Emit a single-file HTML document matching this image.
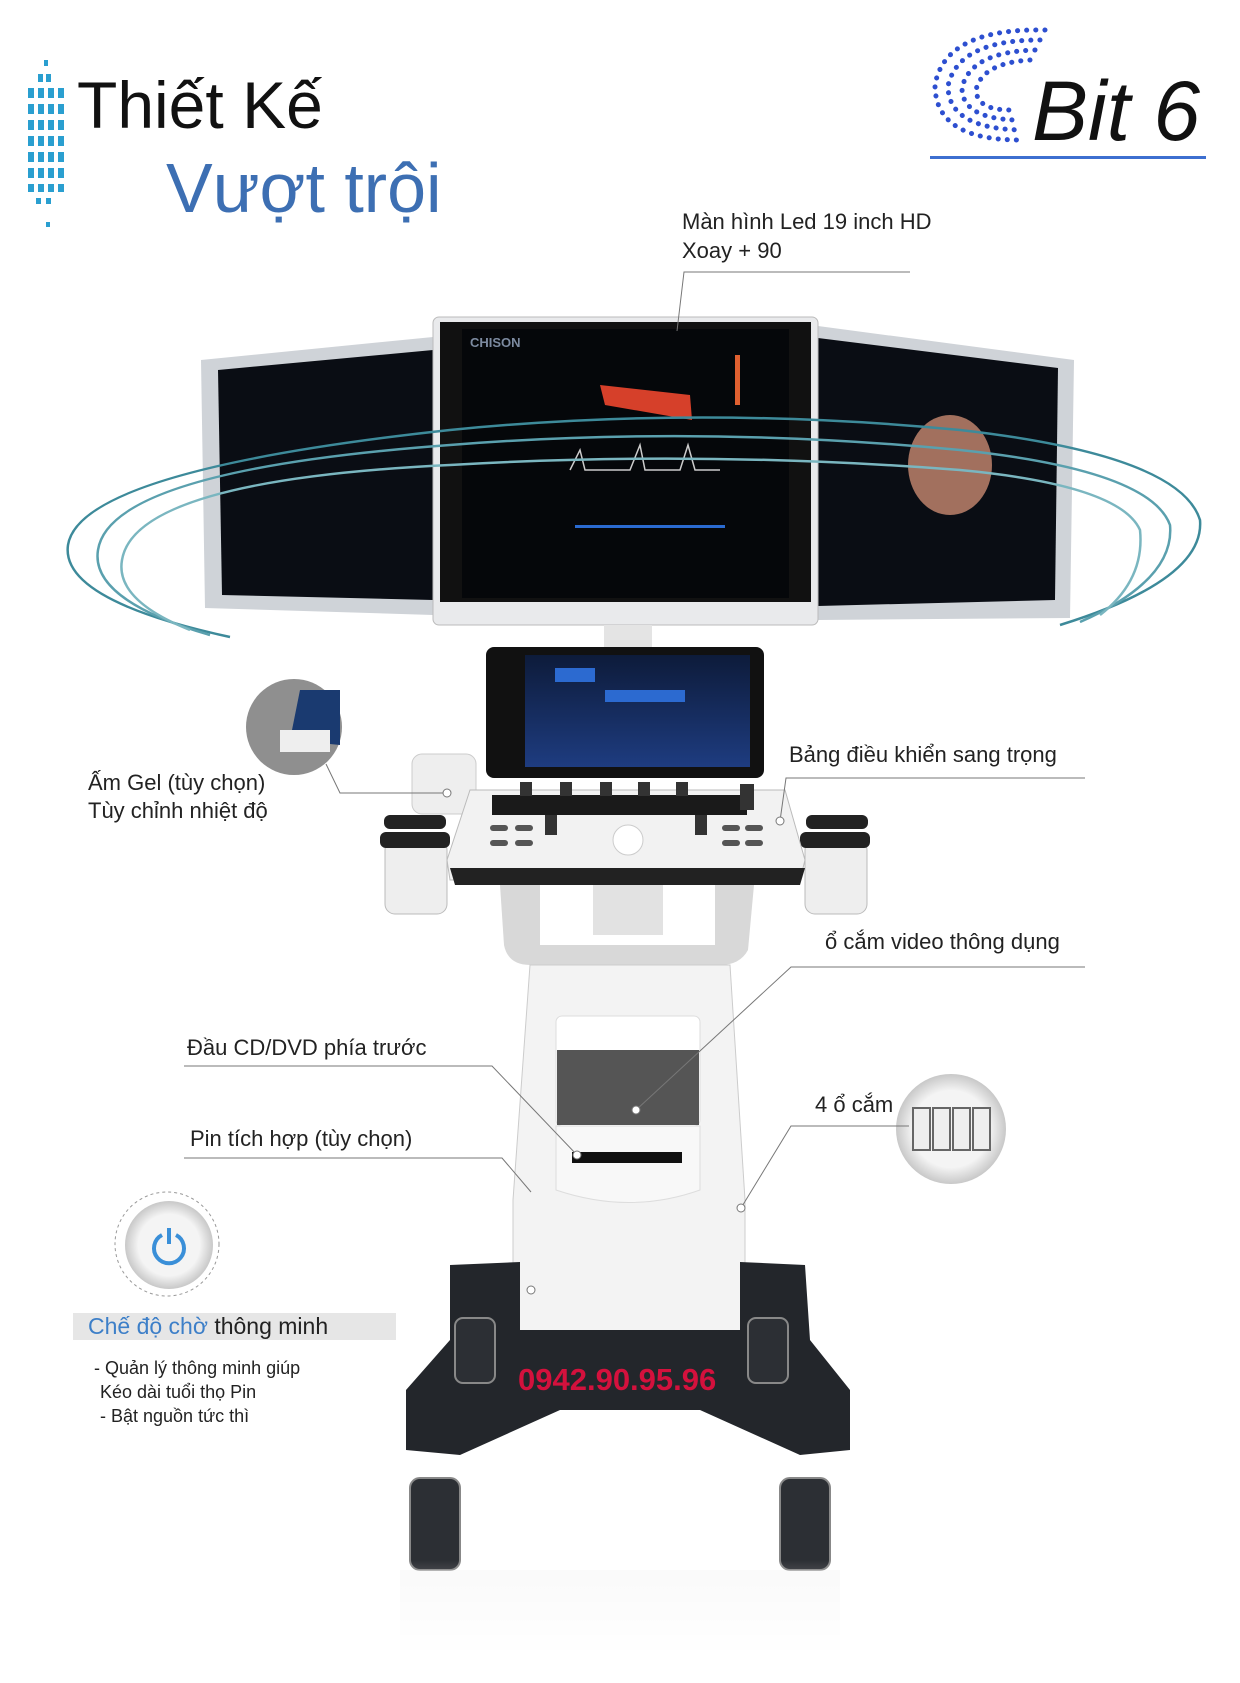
<!DOCTYPE html>
<html><head><meta charset="utf-8"><style>
html,body{margin:0;padding:0;background:#fff}
svg{display:block}
text{font-family:"Liberation Sans","DejaVu Sans",sans-serif}
</style></head><body>
<svg width="1240" height="1683" viewBox="0 0 1240 1683" xmlns="http://www.w3.org/2000/svg">
<defs>
<linearGradient id="fade" x1="0" y1="0" x2="0" y2="1"><stop offset="0" stop-color="#fff" stop-opacity="0"/><stop offset="1" stop-color="#fff" stop-opacity="1"/></linearGradient>
<radialGradient id="circ" cx="0.5" cy="0.5" r="0.5"><stop offset="0.7" stop-color="#f4f4f4"/><stop offset="1" stop-color="#c8c8c8"/></radialGradient>
<linearGradient id="scr" x1="0" y1="0" x2="0" y2="1"><stop offset="0" stop-color="#0d1b3a"/><stop offset="1" stop-color="#1e3c80"/></linearGradient>
</defs>
<!-- title dotted bar -->
<g fill="#2a9fd0">
<rect x="44" y="60" width="4" height="6"/><rect x="38" y="74" width="5" height="8"/><rect x="46" y="74" width="5" height="8"/>
<rect x="28" y="88" width="6" height="10"/><rect x="38" y="88" width="6" height="10"/><rect x="48" y="88" width="6" height="10"/><rect x="58" y="88" width="6" height="10"/>
<rect x="28" y="104" width="6" height="10"/><rect x="38" y="104" width="6" height="10"/><rect x="48" y="104" width="6" height="10"/><rect x="58" y="104" width="6" height="10"/>
<rect x="28" y="120" width="6" height="10"/><rect x="38" y="120" width="6" height="10"/><rect x="48" y="120" width="6" height="10"/><rect x="58" y="120" width="6" height="10"/>
<rect x="28" y="136" width="6" height="10"/><rect x="38" y="136" width="6" height="10"/><rect x="48" y="136" width="6" height="10"/><rect x="58" y="136" width="6" height="10"/>
<rect x="28" y="152" width="6" height="10"/><rect x="38" y="152" width="6" height="10"/><rect x="48" y="152" width="6" height="10"/><rect x="58" y="152" width="6" height="10"/>
<rect x="28" y="168" width="6" height="10"/><rect x="38" y="168" width="6" height="10"/><rect x="48" y="168" width="6" height="10"/><rect x="58" y="168" width="6" height="10"/>
<rect x="28" y="184" width="6" height="8"/><rect x="38" y="184" width="6" height="8"/><rect x="48" y="184" width="6" height="8"/><rect x="58" y="184" width="6" height="8"/>
<rect x="36" y="198" width="5" height="6"/><rect x="46" y="198" width="5" height="6"/><rect x="46" y="222" width="4" height="5"/>
</g>
<text x="77" y="128" font-size="66" fill="#111">Thiết Kế</text>
<text x="166" y="212" font-size="70" fill="#3d6fb3">Vượt trội</text>
<!-- logo dotted C -->
<g fill="none" stroke="#2d4fd0" stroke-linecap="round" stroke-width="5" stroke-dasharray="0.1 9">
<path d="M1045 30 Q945 28 935 85 Q935 140 1020 140"/>
<path d="M1040 40 Q958 40 948 86 Q948 128 1020 130"/>
<path d="M1035 50 Q970 52 962 88 Q962 118 1015 120"/>
<path d="M1030 60 Q982 63 976 90 Q977 110 1010 110"/>
</g>
<text x="1032" y="140" font-size="84" font-style="italic" fill="#111">Bit 6</text>
<rect x="930" y="156" width="276" height="3" fill="#3d6fd0"/>
<!-- side monitors -->
<path d="M201 360 L433 337 L433 615 L205 608 Z" fill="#cfd3d8"/>
<path d="M218 370 L433 350 L433 600 L222 595 Z" fill="#0a0d14"/>
<path d="M818 326 L1074 360 L1070 618 L818 620 Z" fill="#cfd3d8"/>
<path d="M818 338 L1058 368 L1055 600 L818 606 Z" fill="#0a0d14"/>
<ellipse cx="950" cy="465" rx="42" ry="50" fill="#c88a70" opacity="0.8"/>
<!-- main monitor -->
<rect x="433" y="317" width="385" height="308" rx="6" fill="#e9eaec" stroke="#bbb"/>
<rect x="440" y="322" width="371" height="280" fill="#111"/>
<rect x="462" y="329" width="327" height="269" fill="#05070a"/>
<text x="470" y="347" font-size="13" font-weight="bold" fill="#7c8aa0">CHISON</text>
<path d="M600 385 L690 395 L692 420 L605 405Z" fill="#d6402a"/>
<path d="M570 470 L580 450 L585 470 L630 470 L640 445 L645 470 L680 470 L688 445 L695 470 L720 470" stroke="#ccc" fill="none" stroke-width="1.5"/>
<rect x="735" y="355" width="5" height="50" fill="#e06030"/>
<rect x="575" y="525" width="150" height="3" fill="#2a6ad0"/>
<!-- arcs -->
<g fill="none" stroke="#3d8a9a" stroke-width="2.5">
<path d="M230 637 Q60 600 68 545 Q80 470 450 430 Q700 405 960 430 Q1180 455 1200 520 Q1205 580 1060 625"/>
<path d="M210 635 Q90 600 98 550 Q110 470 450 445 Q700 425 960 450 Q1150 470 1170 525 Q1175 580 1080 622" stroke="#5aa0ae"/>
<path d="M190 630 Q115 600 122 560 Q135 480 450 465 Q700 450 960 470 Q1120 485 1140 530 Q1145 580 1100 615" stroke="#7ab6c0"/>
</g>
<!-- neck -->
<rect x="604" y="625" width="48" height="25" fill="#e4e4e4"/>
<!-- touchscreen -->
<rect x="486" y="647" width="278" height="131" rx="8" fill="#111"/>
<rect x="525" y="655" width="225" height="112" fill="url(#scr)"/>
<rect x="555" y="668" width="40" height="14" fill="#2c6ad0"/><rect x="605" y="690" width="40" height="12" fill="#2c6ad0"/><rect x="645" y="690" width="40" height="12" fill="#2c6ad0"/>
<!-- gel warmer -->
<rect x="412" y="754" width="64" height="60" rx="10" fill="#eee" stroke="#ccc"/>
<!-- cup holders -->
<rect x="385" y="840" width="62" height="74" rx="10" fill="#eee" stroke="#bbb"/>
<rect x="384" y="815" width="62" height="14" rx="6" fill="#222"/>
<rect x="380" y="832" width="70" height="16" rx="6" fill="#222"/>
<rect x="805" y="840" width="62" height="74" rx="10" fill="#eee" stroke="#bbb"/>
<rect x="806" y="815" width="62" height="14" rx="6" fill="#222"/>
<rect x="800" y="832" width="70" height="16" rx="6" fill="#222"/>
<!-- control panel -->
<path d="M470 790 L785 790 L805 860 L800 880 L450 880 L447 860 Z" fill="#f2f2f2" stroke="#bbb"/>
<rect x="492" y="795" width="255" height="20" fill="#1a1a1a"/>
<path d="M450 868 L805 868 L800 885 L455 885Z" fill="#222"/>
<circle cx="628" cy="840" r="15" fill="#fff" stroke="#ccc"/>
<g fill="#555"><rect x="490" y="825" width="18" height="6" rx="3"/><rect x="515" y="825" width="18" height="6" rx="3"/><rect x="490" y="840" width="18" height="6" rx="3"/><rect x="515" y="840" width="18" height="6" rx="3"/><rect x="722" y="825" width="18" height="6" rx="3"/><rect x="745" y="825" width="18" height="6" rx="3"/><rect x="722" y="840" width="18" height="6" rx="3"/><rect x="745" y="840" width="18" height="6" rx="3"/></g>
<g fill="#333"><rect x="520" y="782" width="12" height="14"/><rect x="560" y="782" width="12" height="14"/><rect x="600" y="782" width="12" height="14"/><rect x="638" y="782" width="12" height="14"/><rect x="676" y="782" width="12" height="14"/>
<rect x="545" y="815" width="12" height="20"/><rect x="695" y="815" width="12" height="20"/><rect x="740" y="784" width="14" height="26"/></g>
<!-- handle -->
<path d="M500 885 L754 885 L748 950 Q740 965 720 965 L530 965 Q508 965 504 945Z" fill="#d8d8d8"/>
<rect x="540" y="885" width="175" height="60" fill="#fff"/>
<rect x="593" y="885" width="70" height="50" fill="#e2e2e2"/>
<!-- body -->
<path d="M530 965 L730 965 L745 1200 L745 1347 L513 1347 L513 1200 Z" fill="#f3f3f3" stroke="#ccc"/>
<rect x="556" y="1016" width="144" height="110" rx="6" fill="#fff" stroke="#ddd"/>
<rect x="557" y="1050" width="142" height="75" fill="#555"/>
<path d="M556 1126 L700 1126 L700 1190 Q630 1215 556 1190Z" fill="#f8f8f8" stroke="#ddd"/>
<rect x="572" y="1152" width="110" height="11" fill="#111"/>
<!-- base -->
<path d="M450 1265 L520 1262 L520 1330 L740 1330 L740 1262 L805 1265 L810 1340 L850 1390 L850 1450 L800 1455 L700 1410 L560 1410 L460 1455 L406 1450 L406 1390 L450 1340Z" fill="#23262b"/>
<g fill="#2c2f34" stroke="#888" stroke-width="2">
<rect x="455" y="1318" width="40" height="65" rx="8"/><rect x="748" y="1318" width="40" height="65" rx="8"/>
<rect x="410" y="1478" width="50" height="92" rx="10"/><rect x="780" y="1478" width="50" height="92" rx="10"/>
</g>
<rect x="400" y="1570" width="440" height="80" fill="#eee" opacity="0.35"/>
<rect x="380" y="1560" width="480" height="100" fill="url(#fade)"/>
<text x="518" y="1390" font-size="31" font-weight="bold" fill="#d4113d">0942.90.95.96</text>
<!-- gel zoom circle -->
<circle cx="294" cy="727" r="48" fill="#8f8f8f"/>
<path d="M300 690 L340 690 L340 745 L290 740Z" fill="#1a3a70"/>
<rect x="280" y="730" width="50" height="22" fill="#eee"/>
<!-- usb circle -->
<circle cx="951" cy="1129" r="55" fill="url(#circ)"/>
<g fill="#eee" stroke="#666" stroke-width="2"><rect x="913" y="1108" width="17" height="42"/><rect x="933" y="1108" width="17" height="42"/><rect x="953" y="1108" width="17" height="42"/><rect x="973" y="1108" width="17" height="42"/></g>
<!-- power button -->
<circle cx="167" cy="1244" r="52" fill="none" stroke="#999" stroke-dasharray="3 3"/>
<circle cx="169" cy="1245" r="44" fill="url(#circ)"/>
<path d="M162 1235 A15 15 0 1 0 176 1235" fill="none" stroke="#3a8fd8" stroke-width="4"/>
<line x1="169" y1="1228" x2="169" y2="1244" stroke="#3a8fd8" stroke-width="4"/>
<!-- leader lines -->
<g fill="none" stroke="#777" stroke-width="1">
<polyline points="910,272 684,272 677,331"/>
<polyline points="1085,778 786,778 780,821"/>
<polyline points="1085,967 791,967 636,1110"/>
<polyline points="184,1066 492,1066 577,1155"/>
<polyline points="184,1158 502,1158 531,1192"/>
<polyline points="909,1126 791,1126 741,1208"/>
<polyline points="326,764 340,793 447,793"/>
</g>
<g fill="#fff" stroke="#777"><circle cx="780" cy="821" r="4"/><circle cx="636" cy="1110" r="4"/><circle cx="577" cy="1155" r="4"/><circle cx="741" cy="1208" r="4"/><circle cx="447" cy="793" r="4"/><circle cx="531" cy="1290" r="4"/></g>
<!-- labels -->
<g font-size="22" fill="#222">
<text x="682" y="229">Màn hình Led 19 inch HD</text>
<text x="682" y="258">Xoay + 90</text>
<text x="789" y="762">Bảng điều khiển sang trọng</text>
<text x="825" y="949">ổ cắm video thông dụng</text>
<text x="187" y="1055">Đầu CD/DVD phía trước</text>
<text x="190" y="1146">Pin tích hợp (tùy chọn)</text>
<text x="815" y="1112">4 ổ cắm</text>
<text x="88" y="790">Ấm Gel (tùy chọn)</text>
<text x="88" y="818">Tùy chỉnh nhiệt độ</text>
</g>
<rect x="73" y="1313" width="323" height="27" fill="#e6e6e6"/>
<text x="88" y="1334" font-size="23"><tspan fill="#3d7fc8">Chế độ chờ</tspan><tspan fill="#222"> thông minh</tspan></text>
<g font-size="18" fill="#222">
<text x="94" y="1374">- Quản lý thông minh giúp</text>
<text x="100" y="1398">Kéo dài tuổi thọ Pin</text>
<text x="100" y="1422">- Bật nguồn tức thì</text>
</g>
</svg>
</body></html>
